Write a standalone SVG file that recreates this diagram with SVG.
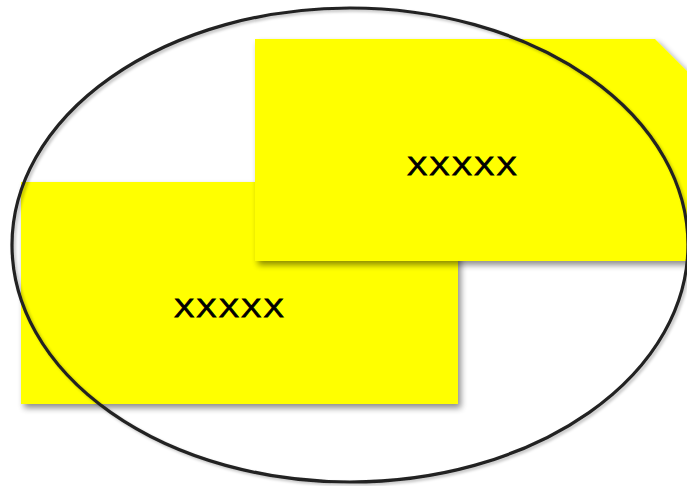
<svg xmlns="http://www.w3.org/2000/svg" width="687" height="486" viewBox="0 0 687 486">
  <defs>
    <filter id="sh" x="-10%" y="-10%" width="130%" height="130%">
      <feGaussianBlur in="SourceAlpha" stdDeviation="3"/>
      <feOffset dx="3" dy="4" result="b"/>
      <feComponentTransfer><feFuncA type="linear" slope="0.45"/></feComponentTransfer>
      <feMerge><feMergeNode/><feMergeNode in="SourceGraphic"/></feMerge>
    </filter>
    <filter id="esh" x="-5%" y="-5%" width="110%" height="110%">
      <feGaussianBlur in="SourceAlpha" stdDeviation="1.5"/>
      <feOffset dx="2" dy="2"/>
      <feComponentTransfer><feFuncA type="linear" slope="0.25"/></feComponentTransfer>
      <feMerge><feMergeNode/><feMergeNode in="SourceGraphic"/></feMerge>
    </filter>
  </defs>
  <style>
    .card { fill: #ffff00; filter: url(#sh); }
    .lbl { font-family: "Liberation Sans", Arial, sans-serif; font-size: 26.5px; fill: #000; stroke: #000; stroke-width: 0.8; text-anchor: middle; letter-spacing: 1.8px; }
  </style>
  <rect width="687" height="486" fill="#ffffff"/>
  <g id="node-bottom">
    <rect class="card" x="21" y="182" width="437" height="222"/>
    <text class="lbl" transform="translate(231,317) scale(1.15,1)" x="-1" y="0">XXXXX</text>
  </g>
  <g id="node-top">
    <polygon class="card" points="255,39 655,39 700,84 700,261 255,261"/>
    <text class="lbl" transform="translate(464,175) scale(1.15,1)" x="-1" y="0">XXXXX</text>
  </g>
  <g id="ellipse">
    <ellipse cx="350" cy="245" rx="338" ry="237" fill="none" stroke="#222222" stroke-width="3.2" filter="url(#esh)"/>
  </g>
</svg>
